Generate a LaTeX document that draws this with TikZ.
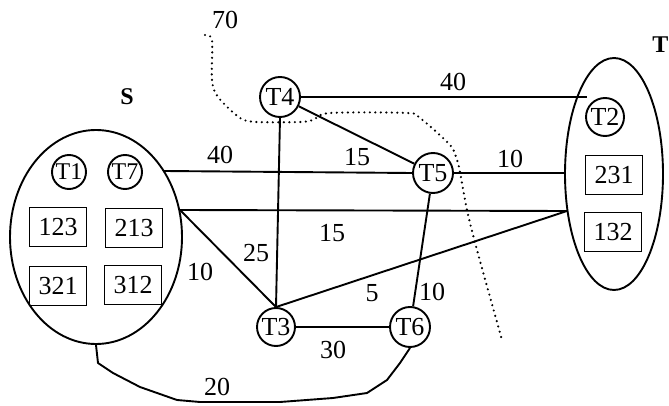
\documentclass[tikz,border=0pt]{standalone}
\usepackage{fontspec}
\setmainfont{Liberation Serif}
\usetikzlibrary{shapes.geometric}
\begin{document}
\begin{tikzpicture}[x=1pt,y=-1pt,
  edge/.style={line width=1.9pt},
  grp/.style={draw,ellipse,inner sep=0pt,line width=1.9pt},
  tnode/.style={draw,circle,inner sep=0pt,minimum size=#1,font=\fontsize{26}{26}\selectfont,line width=1.9pt},
  tnode/.default=39pt,
  small/.style={font=\fontsize{24}{24}\selectfont},
  perm/.style={draw,rectangle,inner sep=0pt,minimum width=57pt,minimum height=39pt,font=\fontsize{26}{26}\selectfont,line width=1.9pt},
  lbl/.style={inner sep=0pt,font=\fontsize{26}{26}\selectfont},
  ttl/.style={inner sep=0pt,font=\bfseries\fontsize{24}{24}\selectfont},
  cutline/.style={line width=2.4pt,line cap=round,dash pattern=on 0pt off 5.5pt}]
\useasboundingbox (0,0) rectangle (669,406);
% groups
\node[grp,minimum width=172pt,minimum height=214pt] (Sg) at (96,237) {};
\node[grp,minimum width=98pt,minimum height=232pt] (Tg) at (614,174) {};
\node[ttl] (Sl) at (127,97) {S};
\node[ttl,anchor=east] (Tl) at (668.5,45) {T};
% task nodes
\node[tnode=34pt,small] (T1) at (69,172) {T1};
\node[tnode=34pt,small] (T7) at (125,172) {T7};
\node[tnode=40pt] (T4) at (280,97) {T4};
\node[tnode=38pt] (T2) at (605,117) {T2};
\node[tnode=40pt] (T5) at (433,173) {T5};
\node[tnode=38pt] (T3) at (276,327) {T3};
\node[tnode=40pt] (T6) at (410,327) {T6};
% boxes
\node[perm] (b123) at (58,227) {123};
\node[perm] (b213) at (134,228) {213};
\node[perm] (b321) at (58,286) {321};
\node[perm] (b312) at (133,285) {312};
\node[perm] (b231) at (614,175) {231};
\node[perm] (b132) at (613,232) {132};
% connector ends on the group borders
\coordinate (e1) at (587,97);
\coordinate (s1) at (164,171);
\coordinate (s2) at (180,210);
\coordinate (t2) at (567,211);
\coordinate (t3) at (565,173);
% connectors
\draw[edge] (T4.east) -- (e1);
\draw[edge] (s1) -- (T5.west);
\draw[edge] (T4) -- (T5);
\draw[edge] (T5.east) -- (t3);
\draw[edge] (s2) -- (t2);
\draw[edge] (s2) -- (T3.north);
\draw[edge] (T4.south) -- (T3.north);
\draw[edge] (T3.north) -- (t2);
\draw[edge] (T5) -- (T6);
\draw[edge] (T3) -- (T6);
\draw[edge,line join=round] (Sg.south) -- (98,363) -- (113,373) -- (140,387) -- (177,400) -- (200,402)
   -- (280,402) -- (333,398) -- (367,393) -- (387,380) -- (400,363) -- (T6.south);
% cut
\draw[cutline] plot[smooth,tension=0.5] coordinates {(205,35) (212,40) (212,80) (218,97) (240,118) (257,122)
   (300,122) (313,120) (330,113) (407,113) (420,118) (450,145) (457,160) (460,172) (467,210) (477,250) (502,340)};
% labels
\node[lbl] (l70) at (225,20) {70};
\node[lbl] (l40a) at (220,155) {40};
\node[lbl] (l40b) at (453,82) {40};
\node[lbl] (l15a) at (357,157) {15};
\node[lbl] (l10a) at (510,159) {10};
\node[lbl] (l15b) at (332,233) {15};
\node[lbl] (l25) at (256,253) {25};
\node[lbl] (l10b) at (200,272) {10};
\node[lbl] (l5) at (372,293) {5};
\node[lbl] (l10c) at (432,292) {10};
\node[lbl] (l30) at (333,350) {30};
\node[lbl] (l20) at (217,387) {20};
\end{tikzpicture}
\end{document}
